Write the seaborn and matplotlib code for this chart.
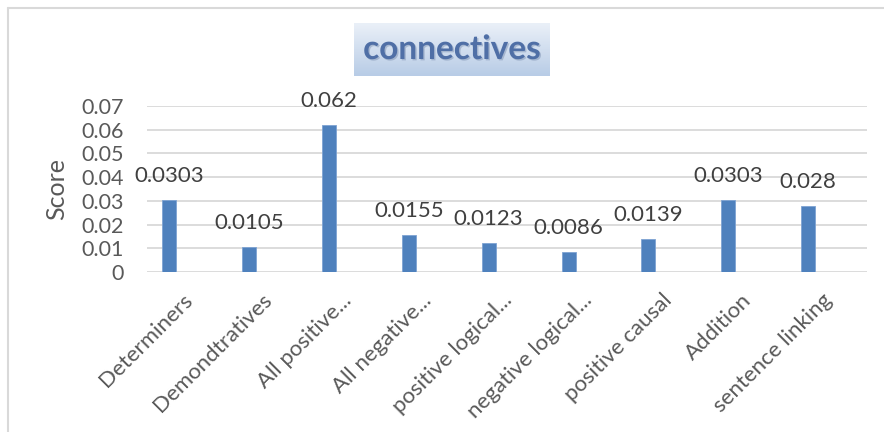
import numpy as np
import pandas as pd
import matplotlib
matplotlib.use("Agg")
import matplotlib.pyplot as plt
import matplotlib.patheffects as pe
import matplotlib.transforms as mtransforms
from matplotlib.lines import Line2D
import seaborn as sns

# data
categories = ["Determiners", "Demondtratives", "All positive...", "All negative...",
              "positive logical...", "negative logical...", "positive causal",
              "Addition", "sentence linking"]
scores = [0.0303, 0.0105, 0.062, 0.0155, 0.0123, 0.0086, 0.0139, 0.0303, 0.028]
score_labels = ["0.0303", "0.0105", "0.062", "0.0155", "0.0123", "0.0086", "0.0139", "0.0303", "0.028"]
yticks = [0, 0.01, 0.02, 0.03, 0.04, 0.05, 0.06, 0.07]
ytick_labels = ["0", "0.01", "0.02", "0.03", "0.04", "0.05", "0.06", "0.07"]

df = pd.DataFrame({"category": categories, "score": scores})

sns.set_theme(style="white")
plt.rcParams["font.family"] = ["Lato", "DejaVu Sans"]

W, H = 884, 432
fig = plt.figure(figsize=(W / 100, H / 100), dpi=100)
fig.patch.set_facecolor("white")

# outer chart border (left and top edges visible)
fig.add_artist(Line2D([8 / W, 8 / W], [0, 1 - 8 / H], transform=fig.transFigure, color="#d9d9d9", lw=1.5))
fig.add_artist(Line2D([8 / W, 1], [1 - 8 / H, 1 - 8 / H], transform=fig.transFigure, color="#d9d9d9", lw=1.5))

ax = fig.add_axes([147 / W, (H - 272) / H, (867 - 147) / W, (272 - 106) / H])

sns.barplot(data=df, x="category", y="score", color="#4f81bd", width=0.175,
            saturation=1, edgecolor="#7ea3d3", linewidth=0.6, ax=ax, zorder=3)

ax.set_xlim(-0.275, 8.735)
ax.set_ylim(0, 0.07)
ax.set_yticks(yticks)
ax.set_yticklabels(ytick_labels)
ax.yaxis.grid(True, color="#d9d9d9", lw=1.3)
ax.set_axisbelow(True)
for s in ax.spines.values():
    s.set_visible(False)

ax.tick_params(axis="y", length=0, pad=16.5, labelsize=15.5, labelcolor="#595959")
ax.tick_params(axis="x", length=0, pad=13, labelsize=16, labelcolor="#595959")
ax.set_xlabel("")
ax.set_ylabel("Score", fontsize=18, color="#595959")
ax.yaxis.set_label_coords(-(147 - 68) / (867 - 147), 0.5)

shift = mtransforms.ScaledTranslation(13 / 100, 0, fig.dpi_scale_trans)
for lbl in ax.get_xticklabels():
    lbl.set_rotation(45)
    lbl.set_ha("right")
    lbl.set_va("top")
    lbl.set_rotation_mode("anchor")
    lbl.set_transform(lbl.get_transform() + shift)

# data labels
for i, (v, t) in enumerate(zip(scores, score_labels)):
    ax.annotate(t, (i, v), xytext=(0, 10), textcoords="offset points",
                ha="center", va="bottom", fontsize=16, color="#404040")

# title box with gradient
tax = fig.add_axes([354 / W, (H - 76) / H, (550 - 354) / W, (76 - 23) / H])
grad = np.linspace(0, 1, 64).reshape(-1, 1)
cmap = matplotlib.colors.LinearSegmentedColormap.from_list("g", ["#eaf0f8", "#b8cce6"])
tax.imshow(grad, aspect="auto", cmap=cmap, extent=[0, 1, 0, 1], origin="upper")
tax.set_axis_off()
tax.text(0.5, 0.5, "connectives", ha="center", va="center", fontsize=24, fontweight="bold",
         color="#4f6fa6", transform=tax.transAxes,
         path_effects=[pe.withSimplePatchShadow(offset=(1, -1), shadow_rgbFace="#7f93b3", alpha=0.5)])

fig.savefig("out.png", dpi=100)
